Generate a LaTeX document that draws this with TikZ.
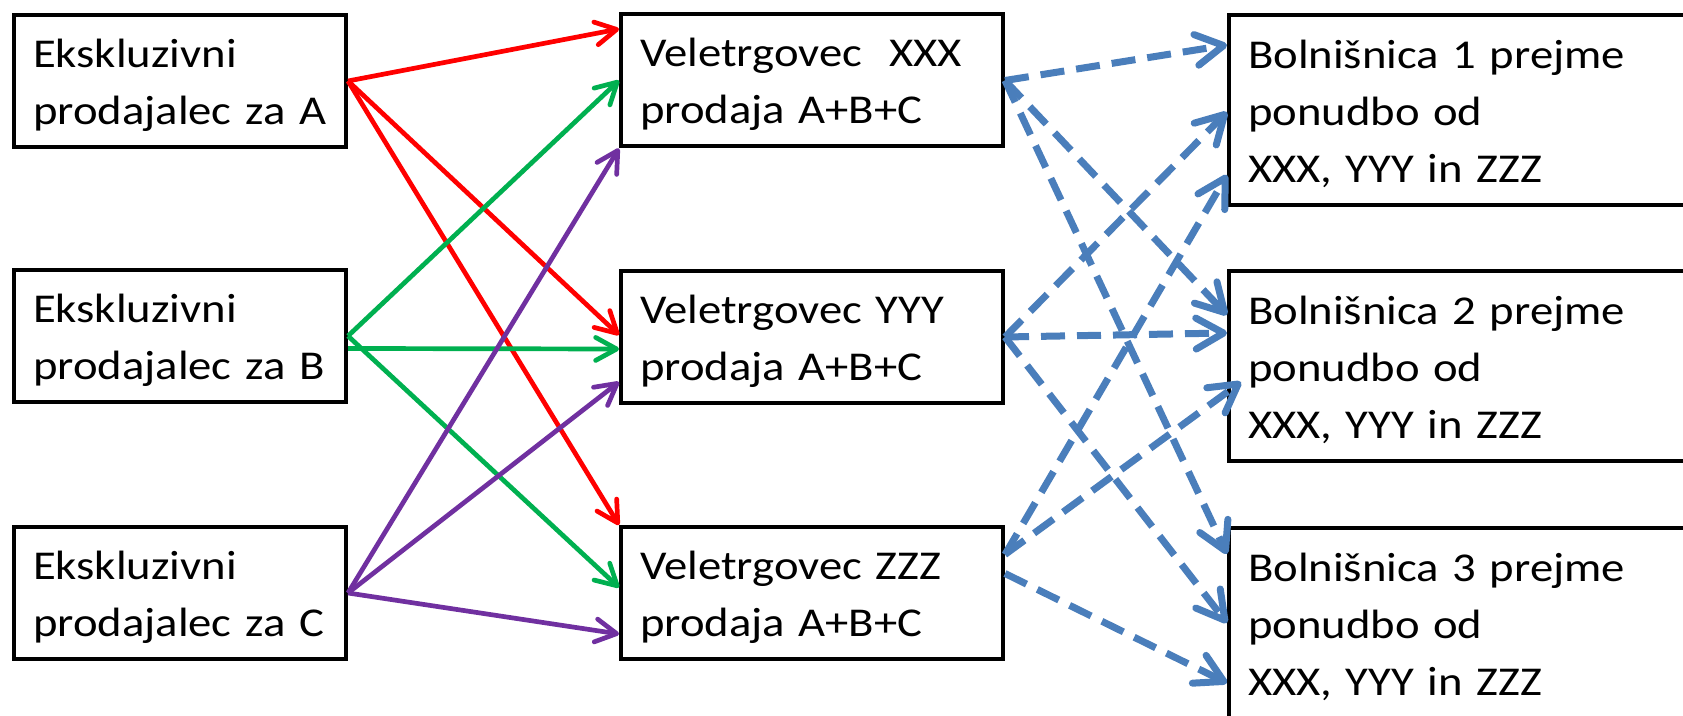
\documentclass[tikz,border=0pt]{standalone}
\usepackage{fontspec}
\setmainfont[FakeStretch=1.14]{Carlito}
\usetikzlibrary{arrows.meta}
\definecolor{offerblue}{HTML}{4A7EBB}
\definecolor{agentgreen}{HTML}{00B050}
\definecolor{agentpurple}{HTML}{7030A0}
\begin{document}
\begin{tikzpicture}[
  box/.style={draw, line width=0.08cm, align=left, inner xsep=0.38cm, inner ysep=0pt,
    font=\fontsize{23.3}{32.4}\selectfont, execute at begin node={\rule{0pt}{0.73cm}}},
  lbox/.style={box, text width=5.88cm, minimum height=2.64cm},
  mbox/.style={box, text width=6.88cm, minimum height=2.64cm},
  hbox/.style={box, text width=9.24cm, minimum height=3.8cm},
  colarrow/.style={line width=0.094cm,
    -{Straight Barb[length=0.42cm,width=0.46cm,line cap=round,line join=round]}},
  fromA/.style={colarrow, draw=red},
  fromB/.style={colarrow, draw=agentgreen},
  fromC/.style={colarrow, draw=agentpurple},
  offer/.style={line width=0.14cm, draw=offerblue, dash pattern=on 0.48cm off 0.24cm,
    -{Straight Barb[length=0.55cm,width=0.62cm,line cap=round,line join=round]}}]
  \useasboundingbox (0,0) rectangle (33.66,14.32);
  \fill[white] (0,0) rectangle (33.66,14.32);
  \clip (0,0) rectangle (33.66,14.32);

  \foreach \n/\y in {A/12.7,B/7.6,C/2.46}
    \node[lbox] (\n) at (3.6,\y) {Ekskluzivni\\prodajalec za \n};
  \foreach \n/\y/\t in {X/12.71/{Veletrgovec~ XXX},Y/7.58/{Veletrgovec YYY},Z/2.46/{Veletrgovec ZZZ}}
    \node[mbox] (\n) at (16.24,\y) {\t\\prodaja A+B+C};
  \foreach \n/\y in {1/12.12,2/7.0,3/1.86}
    \node[hbox] (H\n) at (29.58,\y) {Bolnišnica \n{} prejme\\ponudbo od\\XXX, YYY in ZZZ};

  \draw[fromA] (A.east) -- ([yshift=1.03cm]X.west);
  \draw[fromA] (A.east) -- ([yshift=0.04cm]Y.west);
  \draw[fromA] (A.east) -- (Z.north west);

  \draw[fromB] (B.east) -- (X.west);
  \draw[fromB] ([yshift=-0.25cm]B.east) -- ([yshift=-0.24cm]Y.west);
  \draw[fromB] (B.east) -- ([yshift=0.11cm]Z.west);

  \draw[fromC] (C.east) -- (X.south west);
  \draw[fromC] (C.east) -- ([yshift=-0.9cm]Y.west);
  \draw[fromC] (C.east) -- ([yshift=-0.82cm]Z.west);

  \draw[offer] (X.east) -- ([yshift=1.3cm]H1.west);
  \draw[offer] (X.east) -- ([yshift=1.02cm]H2.west);
  \draw[offer] (X.east) -- ([yshift=1.38cm]H3.west);
  \draw[offer] (Y.east) -- ([yshift=-0.04cm]H1.west);
  \draw[offer] (Y.east) -- ([yshift=0.66cm]H2.west);
  \draw[offer] (Y.east) -- (H3.west);
  \draw[offer] ([yshift=0.77cm]Z.east) -- ([yshift=-1.3cm]H1.west);
  \draw[offer] ([yshift=0.77cm]Z.east) -- ([xshift=0.28cm,yshift=-0.32cm]H2.west);
  \draw[offer] ([yshift=0.39cm]Z.east) -- ([yshift=-1.2cm]H3.west);
\end{tikzpicture}
\end{document}
